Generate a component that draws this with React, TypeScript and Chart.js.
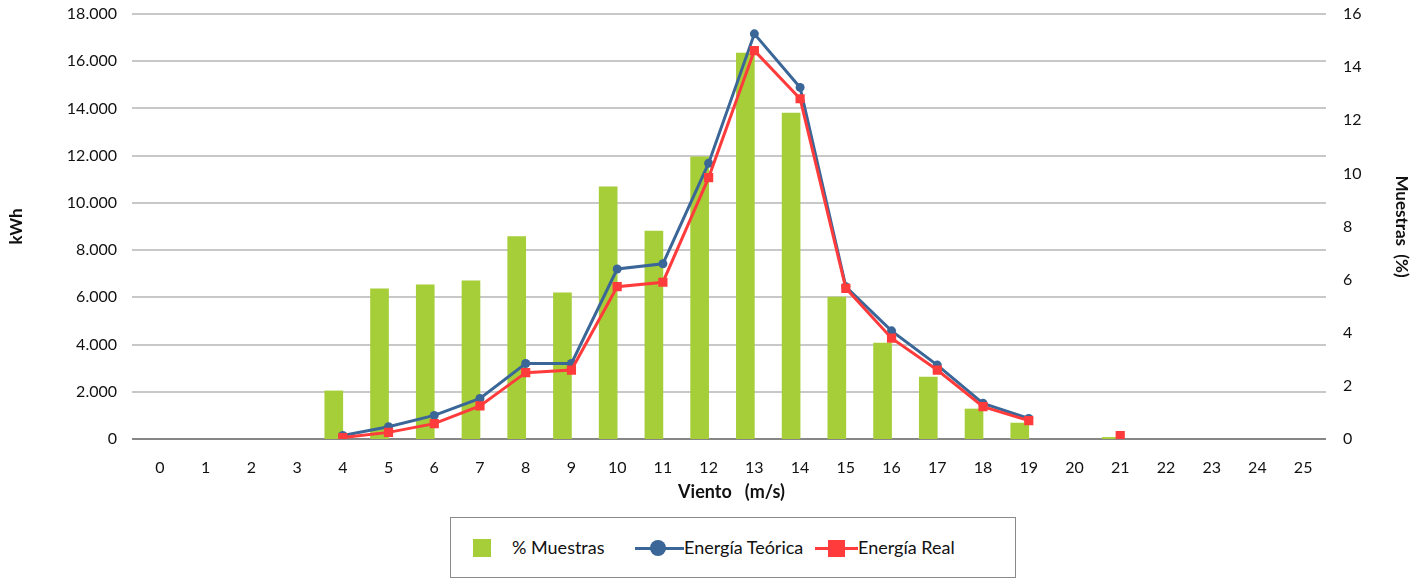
import React, { useEffect, useRef } from 'react';
import { Chart, registerables } from 'chart.js';

Chart.register(...registerables);

const categories = ['0', '1', '2', '3', '4', '5', '6', '7', '8', '9', '10', '11', '12', '13', '14', '15', '16', '17', '18', '19', '20', '21', '22', '23', '24', '25'];
const muestras = [null, null, null, null, 1.81, 5.65, 5.8, 5.95, 7.62, 5.5, 9.49, 7.83, 10.62, 14.53, 12.27, 5.34, 3.61, 2.33, 1.13, 0.6, null, 0.06, null, null, null, null];
const emptyGroup = [0, 0, 0, 0, 0, 0, 0, 0, 0, 0, 0, 0, 0, 0, 0, 0, 0, 0, 0, 0, 0, 0, 0, 0, 0, 0];
const energiaTeorica = [null, null, null, null, 150, 520, 1000, 1720, 3200, 3200, 7200, 7420, 11680, 17160, 14890, 6450, 4580, 3130, 1510, 870, null, null, null, null, null, null];
const energiaReal = [null, null, null, null, 60, 280, 650, 1400, 2810, 2920, 6450, 6640, 11070, 16450, 14410, 6380, 4270, 2920, 1370, 780, null, 140, null, null, null, null];

const kwhMax = 18000;
const kwhStep = 2000;
const pctMax = 16;
const pctStep = 2;

const GREEN = '#a6ce39';
const BLUE = '#3a6698';
const RED = '#ff3b3b';
const TEXT = '#111111';
const FONT = 'Lato, "Open Sans", sans-serif';

export default function App() {
  const ref = useRef<HTMLCanvasElement | null>(null);

  useEffect(() => {
    const canvas = ref.current;
    if (!canvas) return;
    const chart = new Chart(canvas, {
      type: 'bar',
      data: {
        labels: categories,
        datasets: [
          {
            type: 'line',
            label: 'Energía Real',
            data: energiaReal,
            yAxisID: 'y',
            borderColor: RED,
            backgroundColor: RED,
            borderWidth: 3,
            pointStyle: 'rect',
            pointRadius: 6.5,
            pointBorderWidth: 0,
            pointBackgroundColor: RED,
            spanGaps: false,
            tension: 0,
            order: 1,
          },
          {
            type: 'line',
            label: 'Energía Teórica',
            data: energiaTeorica,
            yAxisID: 'y',
            borderColor: BLUE,
            backgroundColor: BLUE,
            borderWidth: 3,
            pointStyle: 'circle',
            pointRadius: 4.5,
            pointBorderWidth: 0,
            pointBackgroundColor: BLUE,
            spanGaps: false,
            tension: 0,
            order: 2,
          },
          {
            type: 'bar',
            label: '% Muestras',
            data: muestras,
            yAxisID: 'y1',
            backgroundColor: GREEN,
            borderWidth: 0,
            barThickness: 18,
            order: 3,
          },
          {
            type: 'bar',
            label: '',
            data: emptyGroup,
            yAxisID: 'y1',
            backgroundColor: 'rgba(0,0,0,0)',
            borderWidth: 0,
            barThickness: 18,
            order: 4,
          },
        ],
      },
      options: {
        responsive: false,
        animation: false,
        devicePixelRatio: 1,
        layout: { padding: { top: 14, left: 0, right: 0, bottom: 0 } },
        plugins: {
          legend: { display: false },
          tooltip: { enabled: false },
        },
        scales: {
          x: {
            offset: true,
            grid: { display: false, drawTicks: false },
            border: { display: false },
            ticks: { color: TEXT, font: { family: FONT, size: 16 }, padding: 19, maxRotation: 0, autoSkip: false },
            title: {
              display: true,
              text: 'Viento   (m/s)',
              color: TEXT,
              font: { family: FONT, size: 18, weight: 'bold' },
              padding: { top: 0, bottom: 7 },
            },
            afterFit: (s: any) => { s.height = 71; },
          },
          y: {
            position: 'left',
            min: 0,
            max: kwhMax,
            grid: {
              color: (c: any) => (c.tick && c.tick.value === 0 ? '#868686' : '#c8c8c8'),
              lineWidth: 2,
              drawTicks: true,
              tickLength: 5,
            },
            border: { display: false },
            ticks: {
              stepSize: kwhStep,
              color: TEXT,
              font: { family: FONT, size: 16 },
              padding: 15,
              callback: (v: any) => Number(v).toLocaleString('de-DE'),
            },
            title: {
              display: true,
              text: 'kWh',
              color: TEXT,
              font: { family: FONT, size: 17, weight: 'bold' },
              padding: { top: 6, bottom: 0 },
            },
            afterFit: (s: any) => { s.width = 137; s.paddingTop = 0; s.paddingBottom = 0; },
          },
          y1: {
            position: 'right',
            min: 0,
            max: pctMax,
            grid: { display: false, drawTicks: false, drawOnChartArea: false },
            border: { display: false },
            ticks: { stepSize: pctStep, color: TEXT, font: { family: FONT, size: 16 }, padding: 17 },
            title: {
              display: true,
              text: 'Muestras  (%)',
              color: TEXT,
              font: { family: FONT, size: 17, weight: 'bold' },
              padding: { top: 16, bottom: 0 },
            },
            afterFit: (s: any) => { s.width = 102; s.paddingTop = 0; s.paddingBottom = 0; },
          },
        },
      },
    });
    return () => chart.destroy();
  }, []);

  const itemText: React.CSSProperties = {
    position: 'absolute',
    top: 0,
    height: 58,
    lineHeight: '58px',
    fontFamily: FONT,
    fontSize: 18,
    color: TEXT,
    whiteSpace: 'nowrap',
  };

  return (
    <div style={{ position: 'absolute', left: 0, top: 0, width: 1428, height: 580, background: '#fff', overflow: 'hidden' }}>
      <canvas ref={ref} width={1428} height={510} style={{ display: 'block', width: 1428, height: 510 }} />
      <div
        style={{
          position: 'absolute',
          left: 450,
          top: 517,
          width: 566,
          height: 61,
          boxSizing: 'border-box',
          border: '1.5px solid #8a8a8a',
          background: '#fff',
        }}
      >
        <div style={{ position: 'absolute', left: 22, top: 21, width: 18, height: 18, background: GREEN }} />
        <div style={{ ...itemText, left: 61 }}>% Muestras</div>
        <div style={{ position: 'absolute', left: 184, top: 29, width: 49, height: 3, background: BLUE }} />
        <div style={{ position: 'absolute', left: 199, top: 22, width: 16, height: 16, borderRadius: 8, background: BLUE }} />
        <div style={{ ...itemText, left: 233 }}>Energía Teórica</div>
        <div style={{ position: 'absolute', left: 364, top: 29, width: 43, height: 3, background: RED }} />
        <div style={{ position: 'absolute', left: 377, top: 22, width: 17, height: 17, background: RED }} />
        <div style={{ ...itemText, left: 407 }}>Energía Real</div>
      </div>
    </div>
  );
}
